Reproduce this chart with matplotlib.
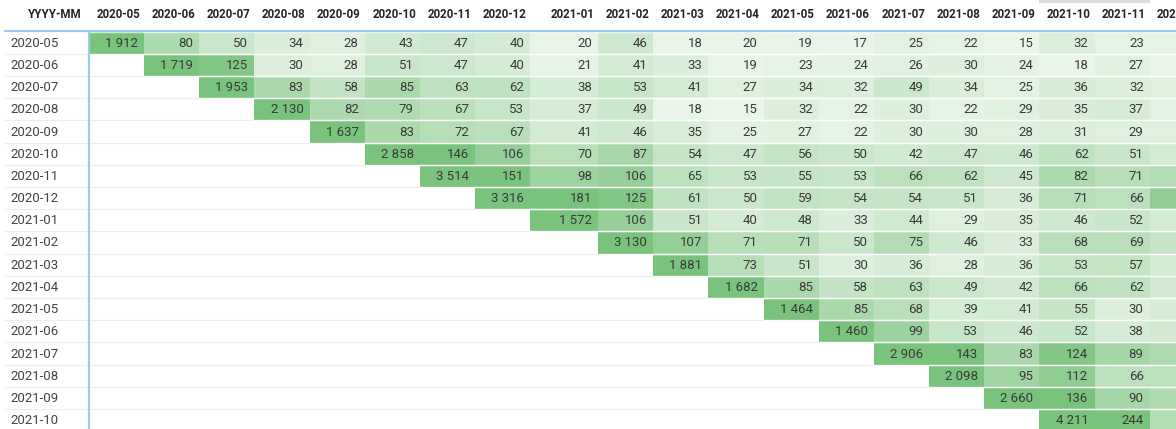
import numpy as np
import matplotlib
matplotlib.use("Agg")
import matplotlib.pyplot as plt
from matplotlib.colors import LinearSegmentedColormap, Normalize

# ---------------- data ----------------
cohorts = ["2020-05", "2020-06", "2020-07", "2020-08", "2020-09", "2020-10",
           "2020-11", "2020-12", "2021-01", "2021-02", "2021-03", "2021-04",
           "2021-05", "2021-06", "2021-07", "2021-08", "2021-09", "2021-10"]
months = ["2020-05", "2020-06", "2020-07", "2020-08", "2020-09", "2020-10",
          "2020-11", "2020-12", "2021-01", "2021-02", "2021-03", "2021-04",
          "2021-05", "2021-06", "2021-07", "2021-08", "2021-09", "2021-10",
          "2021-11", "2021-12"]

# each row starts at its own cohort month
r_2020_05 = [1912, 80, 50, 34, 28, 43, 47, 40, 20, 46, 18, 20, 19, 17, 25, 22, 15, 32, 23, 22]
r_2020_06 = [1719, 125, 30, 28, 51, 47, 40, 21, 41, 33, 19, 23, 24, 26, 30, 24, 18, 27, 18]
r_2020_07 = [1953, 83, 58, 85, 63, 62, 38, 53, 41, 27, 34, 32, 49, 34, 25, 36, 32, 28]
r_2020_08 = [2130, 82, 79, 67, 53, 37, 49, 18, 15, 32, 22, 30, 22, 29, 35, 37, 25]
r_2020_09 = [1637, 83, 72, 67, 41, 46, 35, 25, 27, 22, 30, 30, 28, 31, 29, 28]
r_2020_10 = [2858, 146, 106, 70, 87, 54, 47, 56, 50, 42, 47, 46, 62, 51, 40]
r_2020_11 = [3514, 151, 98, 106, 65, 53, 55, 53, 66, 62, 45, 82, 71, 75]
r_2020_12 = [3316, 181, 125, 61, 50, 59, 54, 54, 51, 36, 71, 66, 110]
r_2021_01 = [1572, 106, 51, 40, 48, 33, 44, 29, 35, 46, 52, 40]
r_2021_02 = [3130, 107, 71, 71, 50, 75, 46, 33, 68, 69, 55]
r_2021_03 = [1881, 73, 51, 30, 36, 28, 36, 53, 57, 40]
r_2021_04 = [1682, 85, 58, 63, 49, 42, 66, 62, 42]
r_2021_05 = [1464, 85, 68, 39, 41, 55, 30, 36]
r_2021_06 = [1460, 99, 53, 46, 52, 38, 42]
r_2021_07 = [2906, 143, 83, 124, 89, 78]
r_2021_08 = [2098, 95, 112, 66, 65]
r_2021_09 = [2660, 136, 90, 78]
r_2021_10 = [4211, 244, 75]

rows = [r_2020_05, r_2020_06, r_2020_07, r_2020_08, r_2020_09, r_2020_10,
        r_2020_11, r_2020_12, r_2021_01, r_2021_02, r_2021_03, r_2021_04,
        r_2021_05, r_2021_06, r_2021_07, r_2021_08, r_2021_09, r_2021_10]

# ---------------- layout (pixels) ----------------
W, H = 1176, 429
x0 = 89.0
col_w = [55.15] * len(months)
col_w[months.index("2021-01")] = 68.0
y0 = 31.6
row_h = 22.2

x_edges = x0 + np.concatenate([[0], np.cumsum(col_w)])
y_edges = y0 + row_h * np.arange(len(cohorts) + 1)

grid = np.full((len(cohorts), len(months)), np.nan)
for i, c in enumerate(cohorts):
    start = months.index(c)
    vals = rows[i]
    grid[i, start:start + len(vals)] = vals
masked = np.ma.masked_invalid(grid)

cmap = LinearSegmentedColormap.from_list("g", ["#eef7ee", "#7ac37c"])
norm = Normalize(vmin=12, vmax=135, clip=True)

fig = plt.figure(figsize=(W / 100, H / 100), dpi=100)
ax = fig.add_axes([0, 0, 1, 1])
ax.set_xlim(0, W)
ax.set_ylim(H, 0)
ax.axis("off")

# row separators in the empty area
for y in y_edges[1:]:
    ax.plot([5, W], [y, y], color="#ededed", lw=0.8, zorder=1)

ax.pcolormesh(x_edges, y_edges, masked, cmap=cmap, norm=norm,
              linewidth=0, zorder=2)

# thin light separators between rows, over the coloured cells
for i, c in enumerate(cohorts):
    xs = x_edges[months.index(c)]
    for y in (y_edges[i], y_edges[i + 1]):
        ax.plot([xs, W], [y, y], color="white", lw=1.0, alpha=0.75, zorder=2.5)

txt = "#3a3a3a"
font = "Roboto"
# cell values
for i in range(len(cohorts)):
    yc = (y_edges[i] + y_edges[i + 1]) / 2
    for j in range(len(months)):
        v = grid[i, j]
        if np.isnan(v):
            continue
        s = f"{int(v):,}".replace(",", " ")
        ax.text(x_edges[j + 1] - 6, yc + 0.5, s, ha="right", va="center",
                fontsize=9.5, color=txt, family=font, zorder=3)

# row labels
for i, c in enumerate(cohorts):
    yc = (y_edges[i] + y_edges[i + 1]) / 2
    ax.text(10, yc + 0.5, c, ha="left", va="center", fontsize=9.5,
            color="#444444", family=font, zorder=3)

# column headers
for j, m in enumerate(months):
    ax.text(x_edges[j + 1] - 4, 14, m, ha="right", va="center", fontsize=8.3,
            fontweight="bold", color="#252423", family=font, zorder=3)
ax.text(82, 14, "YYYY-MM", ha="right", va="center", fontsize=8.3,
        fontweight="bold", color="#252423", family=font, zorder=3)

# blue header/row-header separators
ax.plot([5, W], [y0 - 0.6, y0 - 0.6], color="#9ccaf2", lw=1.6, zorder=4)
ax.plot([x0, x0], [y0 - 0.6, H], color="#9ccaf2", lw=1.6, zorder=4)

# small grey bar at the top right
ax.add_patch(plt.Rectangle((x_edges[months.index("2021-10")], 0),
                           x_edges[months.index("2021-12")] - x_edges[months.index("2021-10")], 2.5,
                           color="#dddddd", lw=0, zorder=4))

fig.savefig("out.png", dpi=100)
